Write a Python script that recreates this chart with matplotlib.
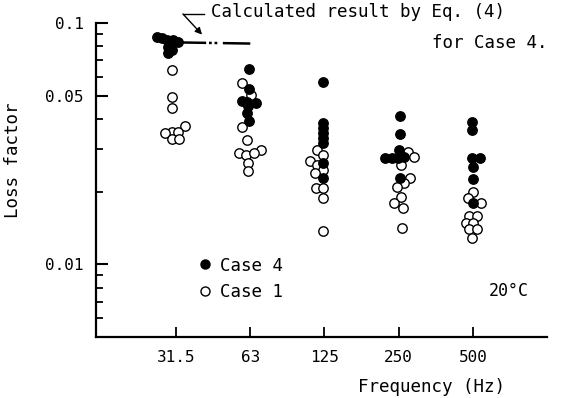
import numpy as np
import matplotlib
matplotlib.use("Agg")
import matplotlib.pyplot as plt
from matplotlib.ticker import LogLocator, FixedLocator, NullFormatter
from matplotlib.lines import Line2D

plt.rcParams['font.family'] = ['DejaVu Sans Mono']
plt.rcParams['lines.scale_dashes'] = False

freq_labels = ['31.5', '63', '125', '250', '500']

# loss factor, one list per band
case4 = [
    [0.0875, 0.0867, 0.0851, 0.0851, 0.0835, 0.0796, 0.0774, 0.0752],
    [0.0646, 0.0534, 0.0476, 0.0472, 0.0467, 0.0454, 0.0425, 0.0394],
    [0.0570, 0.0387, 0.0368, 0.0351, 0.0335, 0.0319, 0.0264, 0.0229],
    [0.0413, 0.0348, 0.0299, 0.0277, 0.0277, 0.0277, 0.0279, 0.0229],
    [0.0390, 0.0361, 0.0277, 0.0277, 0.0254, 0.0226, 0.0180],
]
case1 = [
    [0.0640, 0.0494, 0.0446, 0.0375, 0.0354, 0.0354, 0.0351, 0.0332, 0.0332],
    [0.0565, 0.0504, 0.0372, 0.0329, 0.0299, 0.0288, 0.0285, 0.0288, 0.0264, 0.0244],
    [0.0299, 0.0285, 0.0267, 0.0257, 0.0247, 0.0238, 0.0208, 0.0208, 0.0189, 0.0137],
    [0.0293, 0.0279, 0.0259, 0.0229, 0.0218, 0.0210, 0.0191, 0.0180, 0.0172, 0.0142],
    [0.0199, 0.0189, 0.0180, 0.0159, 0.0159, 0.0149, 0.0149, 0.0140, 0.0140, 0.0129],
]

# calculated result by Eq. (4), from 31.5 to 63 Hz band
calc_x = [-0.1, 1.0]
calc_y = [0.0832, 0.0822]

# horizontal spread of overlapping markers (in pixels, as in the figure)
jit4 = [
    [-19, -14, -9, -3, 2, -8, -4, -8],
    [-1, -1, -8, -3, 6, -2, -3, -1],
    [-1, -1, -1, -1, -1, -1, -1, -1],
    [1, 1, 0, -14, -7, -1, 5, 1],
    [-1, -1, -1, 7, 0, 0, 0],
]
jit1 = [
    [-4, -4, -4, 9, -4, 2, -11, -4, 3],
    [-8, 1, -8, -3, 11, -11, -4, 4, -2, -2],
    [-7, -1, -14, -7, -1, -9, -8, -1, -1, -1],
    [9, 15, 2, 11, 5, -2, 2, -5, 4, 3],
    [0, -5, 8, -4, 4, -7, 0, -4, 4, -1],
]
px_per_band = 74.25

fig = plt.figure(figsize=(5.65, 3.98), dpi=100)
ax = fig.add_axes([96 / 565, 61 / 398, 451 / 565, 314 / 398])

for i in range(len(freq_labels)):
    x1 = i + np.array(jit1[i]) / px_per_band
    ax.scatter(x1, case1[i], s=46, facecolor='white', edgecolor='black',
               linewidth=1.0, zorder=3, clip_on=False)
for i in range(len(freq_labels)):
    x4 = i + np.array(jit4[i]) / px_per_band
    ax.scatter(x4, case4[i], s=46, facecolor='black', edgecolor='black',
               linewidth=1.0, zorder=4, clip_on=False)

ax.plot(calc_x, calc_y, color='black', lw=1.8, zorder=2,
        linestyle=(0, (27, 2, 2, 2, 2, 4, 22, 10)))

# leader with arrow to the calculated line
ax.annotate('', xy=(0.35, 0.0895), xycoords='data',
            xytext=(183, 384), textcoords='figure pixels',
            arrowprops=dict(arrowstyle='-|>', color='black', lw=1.0,
                            mutation_scale=10, shrinkA=0, shrinkB=0))
fig.add_artist(Line2D([183 / 565, 204 / 565], [384 / 398, 384 / 398],
                      color='black', lw=1.0))
fig.text(211 / 565, 386 / 398, 'Calculated result by Eq. (4)',
         fontsize=12.6, va='center', ha='left')
fig.text(547 / 565, 355 / 398, 'for Case 4.',
         fontsize=12.6, va='center', ha='right')

ax.set_yscale('log')
ax.set_ylim(0.005, 0.1)
ax.set_xlim(-1.08, 5.0)
ax.set_xticks(range(len(freq_labels)))
ax.set_xticklabels(freq_labels, fontsize=11.5)
ax.yaxis.set_major_locator(FixedLocator([0.01, 0.05, 0.1]))
ax.set_yticklabels(['0.01', '0.05', '0.1'], fontsize=11.5)
ax.yaxis.set_minor_locator(LogLocator(base=10, subs=np.arange(2, 10)))
ax.yaxis.set_minor_formatter(NullFormatter())

for s in ['top', 'right']:
    ax.spines[s].set_visible(False)
for s in ['left', 'bottom']:
    ax.spines[s].set_linewidth(1.6)

ax.tick_params(axis='y', which='major', direction='in', length=8.5, width=1.5, pad=9)
ax.tick_params(axis='y', which='minor', direction='in', length=5, width=1.3)
ax.tick_params(axis='x', which='major', direction='in', length=7, width=1.3, pad=9)

ax.set_ylabel('Loss factor', fontsize=12.6)
ax.yaxis.set_label_coords(-0.164, 0.564)
ax.set_xlabel('Frequency (Hz)', fontsize=12.6)
ax.xaxis.set_label_coords(0.745, -0.13)

handles = [
    Line2D([], [], marker='o', linestyle='none', markerfacecolor='black',
           markeredgecolor='black', markersize=6.5, label='Case 4'),
    Line2D([], [], marker='o', linestyle='none', markerfacecolor='white',
           markeredgecolor='black', markersize=6.5, label='Case 1'),
]
ax.legend(handles=handles, loc='upper left', bbox_to_anchor=(0.222, 0.256),
          frameon=False, fontsize=12.6, handlelength=1.0, handletextpad=0.35,
          labelspacing=0.5, borderpad=0, borderaxespad=0)

ax.text(0.916, 0.146, '20°C', transform=ax.transAxes, fontsize=12,
        ha='center', va='center')

fig.savefig('out.png', dpi=100)
